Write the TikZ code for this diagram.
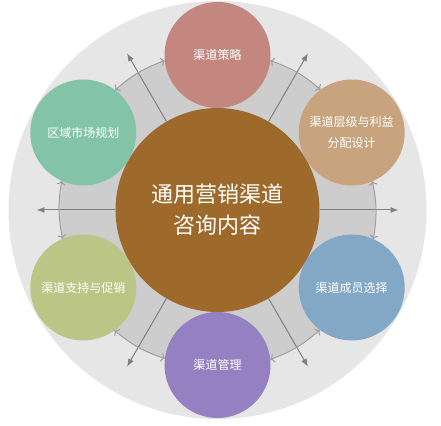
\documentclass[tikz,border=0pt]{standalone}
\usepackage{fontspec}
\newfontfamily\cjk{Noto Sans CJK SC}
\usepackage{tikz}
\usetikzlibrary{positioning,arrows.meta}

\definecolor{ringout}{HTML}{E6E6E6}
\definecolor{ringin}{HTML}{CDCDCD}
\definecolor{hubcol}{HTML}{9E6A2C}
\definecolor{strat}{HTML}{C4877F}
\definecolor{tier}{HTML}{C8A47E}
\definecolor{member}{HTML}{83A8C6}
\definecolor{manage}{HTML}{9581C1}
\definecolor{support}{HTML}{BBC686}
\definecolor{region}{HTML}{83C4A9}

\begin{document}
\begin{tikzpicture}[x=1pt,y=1pt]
 	\tikzstyle{topic}=[circle, minimum size = 106pt, inner sep=0pt, outer sep=0pt, text=white, align=center, font=\cjk\fontsize{12}{21}\selectfont]
 	\tikzstyle{hub}=[circle, minimum size = 204pt, inner sep=0pt, outer sep=0pt, fill=hubcol, text=white, align=center, font=\cjk\fontsize{22}{31}\selectfont]
 	\tikzstyle{ray}=[-{Latex[length=8pt,width=6pt]}, draw=black!50, line width=1pt]
 	\tikzstyle{swing}=[{To[length=4pt,width=9pt]}-{To[length=4pt,width=9pt]}, draw=black!38, line width=1pt]
 	\useasboundingbox (-217.5,-215) rectangle (223.5,210);
 	\fill[ringout] (0,0) circle (209);
 	\fill[ringin] (0,0) circle (158);
 	\node[hub] (hub) at (0,0) {通用营销渠道\\咨询内容};
 	\node[topic, fill=strat] (strat) at (90:155) {渠道策略};
 	\node[topic, fill=tier] (tier) at (30:155) {渠道层级与利益\\分配设计};
 	\node[topic, fill=member] (member) at (-30:155) {渠道成员选择};
 	\node[topic, fill=manage] (manage) at (-90:155) {渠道管理};
 	\node[topic, fill=support] (support) at (-150:155) {渠道支持与促销};
 	\node[topic, fill=region] (region) at (150:155) {区域市场规划};
 	\coordinate (e0) at (0:181);
 	\coordinate (e60) at (60:181);
 	\coordinate (e120) at (120:181);
 	\coordinate (e180) at (180:181);
 	\coordinate (e240) at (240:181);
 	\coordinate (e300) at (300:181);
 	\path (hub.0) edge [ray] (e0)
 	(hub.60) edge [ray] (e60)
 	(hub.120) edge [ray] (e120)
 	(hub.180) edge [ray] (e180)
 	(hub.240) edge [ray] (e240)
 	(hub.300) edge [ray] (e300);
 	\path (strat.186.6) edge [swing, bend right=10.5] (region.53.4)
 	(region.246.6) edge [swing, bend right=10.5] (support.113.4)
 	(support.306.6) edge [swing, bend right=10.5] (manage.173.4)
 	(manage.6.6) edge [swing, bend right=10.5] (member.233.4)
 	(member.66.6) edge [swing, bend right=10.5] (tier.293.4)
 	(tier.126.6) edge [swing, bend right=10.5] (strat.-6.6);
\end{tikzpicture}
\end{document}
